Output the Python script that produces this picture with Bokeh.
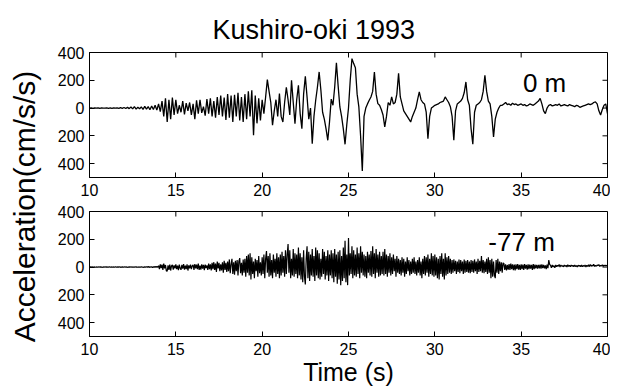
import numpy as np
from math import pi
from bokeh.plotting import figure
from bokeh.models import Range1d, FixedTicker, Label, Title
from bokeh.layouts import row, column
from bokeh.embed import file_html
from bokeh.resources import INLINE

title_text = "Kushiro-oki 1993"
y_label = "Acceleration(cm/s/s)"
x_label = "Time (s)"
depth_labels = ["0 m", "-77 m"]
x_ticks = [10, 15, 20, 25, 30, 35, 40]
y_ticks = [-400, -200, 0, 200, 400]
y_tick_labels = ["400", "200", "0", "200", "400"]
x_lim = (10, 40)
y_lim = (-500, 400)

# sample times (s): surface record every 0.1 s, borehole record every 0.05 s
time_0m = np.round(10 + 0.1 * np.arange(301), 2)
time_77m = np.round(10 + 0.05 * np.arange(601), 2)

# surface (0 m) acceleration, cm/s/s, one row per second
acc_0m = [
    0, 2, -2, 1, -1, 2, -2, 1, 0, -1,
    2, -2, 1, -2, 2, -1, 1, -2, 3, -2,
    4, -3, 5, -4, 8, -6, 10, -8, 6, -5,
    8, -10, 12, -8, 10, -12, 15, -10, 20, -15,
    30, -25, 50, -60, 70, -100, 60, -80, 75, -50,
    60, -40, 20, -30, 50, -45, 35, -20, 40, -50,
    30, -80, 55, -40, 60, -35, 10, -55, 65, -40,
    70, -60, 50, -70, 80, -50, 90, -60, 75, -85,
    100, -70, 90, -100, 95, -60, 110, -90, 80, -100,
    100, -80, 120, -60, 128, -196, 90, -110, 70, -90,
    60, -40, 80, 205, 120, 40, -124, -20, 60, -60,
    104, -60, -100, 40, 150, 60, -50, 200, 40, -112,
    60, 164, -40, -148, 100, 229, 80, -80, 0, -256,
    -60, 56, 150, 260, 130, -30, -80, -150, -232, -100,
    64, 20, 150, 325, 160, 8, -60, -150, -261, -120,
    0, 200, 356, 320, 290, 100, 8, -200, -453, -60,
    0, 30, 56, 80, 120, 260, 100, 32, 20, -10,
    -50, -136, -60, 40, 20, 80, 30, 40, 100, 250,
    80, 30, -20, -40, -60, -80, -100, -60, -30, 0,
    60, 116, 60, 40, 30, -30, -220, -60, 0, 10,
    20, 25, 30, 40, 45, 50, 80, 60, 40, 10,
    -60, -232, -20, 30, 40, 50, 70, 110, 188, 60,
    20, -150, -260, -30, 20, 30, 40, 60, 120, 236,
    120, 50, 30, -60, -208, -80, -30, 0, 20, 20,
    30, 40, 25, 30, 20, 35, 25, 30, 20, 25,
    30, 20, 25, 15, 20, 30, 25, 20, 30, 40,
    50, 70, 30, -20, -40, 0, 20, 25, 15, 20,
    25, 20, 30, 15, 20, 25, 20, 15, 25, 20,
    15, 10, 20, 15, 5, 10, 15, 20, 25, 30,
    25, 30, 40, 45, 30, -20, -50, -10, 20, 30,
    -40,
]

# borehole (-77 m) acceleration, cm/s/s, one row per second
acc_77m = [
    0, 1, -1, 2, -1, 0, 1, -2, 1, 0, -1, 2, -1, 1, 0, -2, 1, -1, 2, 0,
    1, -1, 0, 2, -2, 1, 0, -1, 1, -2, 2, 0, -1, 1, -1, 2, -2, 0, 1, -1,
    0, 2, -1, 1, -2, 0, 1, -1, 2, -2, 1, 0, -1, 2, -1, 1, -2, 1, 0, -1,
    2, -2, 1, -3, 3, -1, 2, -2, 4, -3, 2, -1, 3, -4, 2, -2, 5, -3, 4, -2,
    10, -15, 20, -8, 18, -20, 25, -10, 15, -28, -30, 12, -20, 18, -25, 8, 15, -18, 12, -10,
    20, -15, 10, -22, 18, -8, -20, 15, -12, 22, -18, 10, -15, 20, -25, 12, -10, 18, -15, 8,
    15, -20, 22, -10, 18, -15, 25, -20, 10, -18, 20, -12, 15, -22, 18, -8, 12, -20, 25, -15,
    20, -25, 30, -15, 35, -20, 25, -35, 40, -10, 30, -30, 20, -25, 35, -40, 45, -20, 30, -35,
    40, -30, 55, -45, 20, 60, -50, 35, -55, 45, -30, 50, -60, 40, 65, -45, 30, -60, 55, -40,
    60, -70, 80, -40, 90, -60, 100, -90, 70, -50, 40, -80, 60, -30, 50, -70, 80, -45, 35, -60,
    70, -50, 90, -80, 60, 116, -40, 80, -70, 100, -60, 50, -80, 90, -40, 60, -70, 100, -50, 70,
    -80, 90, -60, 110, -40, 80, -70, 120, -50, 90, 165, -40, 120, -80, 60, -60, 130, -70, 100, -50,
    90, -80, 140, -60, 100, -90, 70, -110, 120, -70, -125, 60, 150, -80, 110, -100, 90, -60, 130, -70,
    80, -100, 140, -60, 120, -80, 100, -90, 60, -70, 130, -50, 110, -90, 80, -60, 120, -100, 90, -60,
    120, -80, 100, -110, 130, -70, 90, -120, 110, -90, 120, -130, 80, -100, 140, -80, 190, -110, 90, -130,
    210, -60, 100, -50, 150, -80, 120, -60, 90, -70, 140, -50, 100, -80, 150, -40, 110, -60, 90, -70,
    80, -80, 110, -40, 90, -60, 115, -70, 150, -50, 100, -80, 130, -40, 90, -70, 110, -60, 80, -50,
    110, -60, 130, -50, 90, -70, 80, -40, 100, -60, 70, -50, 90, -30, 60, -70, 80, -40, 60, -50,
    50, -60, 70, -40, 60, -70, 40, -50, 70, -30, 50, -60, 40, -50, 60, -40, 70, -50, 40, -60,
    50, -40, 70, -60, 40, -80, 60, -50, 80, -60, 70, -40, 90, -70, 60, -50, 100, -60, 80, -70,
    90, -60, 70, -80, 60, -90, 80, -50, 100, -70, 60, -90, 100, -60, 70, -50, 80, -40, 60, -50,
    50, -40, 55, -30, 45, -50, 40, -35, 55, -45, 50, -30, 40, -50, 55, -40, 45, -35, 50, -40,
    40, -45, 50, -35, 45, -40, 55, -30, 40, -50, 60, -35, 45, -30, 80, -40, 50, -45, 40, -35,
    60, -50, 70, -40, 50, -80, 60, -70, 40, -60, -80, 50, -40, 60, -50, 40, -30, 35, -40, 30,
    25, -20, 20, -25, 15, -18, 22, -20, 25, -15, 20, -22, 18, -25, 20, -15, 22, -18, 15, -20,
    20, -15, 18, -20, 22, -12, 15, -18, 20, -15, 18, -12, 15, -20, 22, -15, 18, -10, 15, -12,
    15, -10, 18, -12, 20, -8, 15, -10, 12, -15, 18, -8, 50, 20, 12, -5, 15, 0, 10, -5,
    15, 2, 12, 5, 18, 0, 14, 6, 10, 2, 15, 4, 12, 0, 16, 5, 12, 3, 14, 6,
    12, 2, 15, 4, 10, 0, 13, 6, 12, 3, 15, 2, 11, 5, 14, 0, 12, 4, 16, 3,
    18, 5, 14, 8, 20, 4, 12, 6, 15, 10, 18, 4, 12, 8, 16, 5, 14, 9, 12, 10,
    10,
]

FONT = "Liberation Sans"
W = 566
H_TOTAL = 390


def panel(height, mb_top, mb_bottom, t, series, tag, tag_x, lw):
    p = figure(width=W, height=height, x_range=Range1d(*x_lim), y_range=Range1d(*y_lim),
               output_backend="svg", toolbar_location=None,
               min_border_left=45, min_border_right=3,
               min_border_top=mb_top, min_border_bottom=mb_bottom)
    p.xgrid.visible = False
    p.ygrid.visible = False
    p.outline_line_color = "black"
    p.outline_line_alpha = 1
    p.outline_line_width = 1
    p.background_fill_color = "white"
    p.border_fill_color = "white"
    p.xaxis.ticker = FixedTicker(ticks=x_ticks)
    p.yaxis.ticker = FixedTicker(ticks=y_ticks)
    p.yaxis.major_label_overrides = {v: s for v, s in zip(y_ticks, y_tick_labels)}
    for ax in [p.xaxis[0], p.yaxis[0]]:
        ax.major_tick_in = 5
        ax.major_tick_out = 0
        ax.minor_tick_in = 0
        ax.minor_tick_out = 0
        ax.major_label_text_font = FONT
        ax.major_label_text_font_size = "16px"
        ax.major_label_text_color = "black"
        ax.axis_line_color = "black"
        ax.major_tick_line_color = "black"
    p.yaxis.major_label_standoff = 5
    p.xaxis.major_label_standoff = 6
    # mirrored inside ticks on the top and right edges of the frame
    p.ray(x=x_ticks, y=[y_lim[1]] * len(x_ticks), length=5, length_units="screen",
          angle=-pi / 2, line_color="black", line_width=1)
    p.ray(x=[x_lim[1]] * len(y_ticks), y=y_ticks, length=5, length_units="screen",
          angle=pi, line_color="black", line_width=1)
    p.line(t, series, line_color="black", line_width=lw)
    p.add_layout(Label(x=tag_x, y=180, text=tag, text_font=FONT, text_font_size="26px",
                       text_color="black", text_baseline="alphabetic"))
    return p


top = panel(202, 52, 25, time_0m, acc_0m, depth_labels[0], 35.1, 1.3)
top.title = Title(text=title_text, align="left", offset=123, text_font=FONT,
                  text_font_size="27px", text_font_style="normal", text_color="black",
                  vertical_align="top", standoff=12)

bot = panel(H_TOTAL - 202, 9, 54, time_77m, acc_77m, depth_labels[1], 33.1, 1.2)
xa = bot.below[0]
xa.axis_label = x_label
xa.axis_label_text_font = FONT
xa.axis_label_text_font_size = "25px"
xa.axis_label_text_font_style = "normal"
xa.axis_label_text_color = "black"
xa.axis_label_standoff = 0

lab = figure(width=44, height=H_TOTAL, x_range=Range1d(0, 44), y_range=Range1d(0, H_TOTAL),
             output_backend="svg", toolbar_location=None, min_border=0,
             x_axis_location=None, y_axis_location=None, outline_line_color=None)
lab.xgrid.visible = False
lab.ygrid.visible = False
lab.add_layout(Label(x=24, y=H_TOTAL - 206, text=y_label, angle=pi / 2, text_align="center",
                     text_baseline="middle", text_font=FONT, text_font_size="30px",
                     text_color="black"))

layout = row(lab, column(top, bot))
open("out.html", "w").write(file_html(layout, INLINE))
